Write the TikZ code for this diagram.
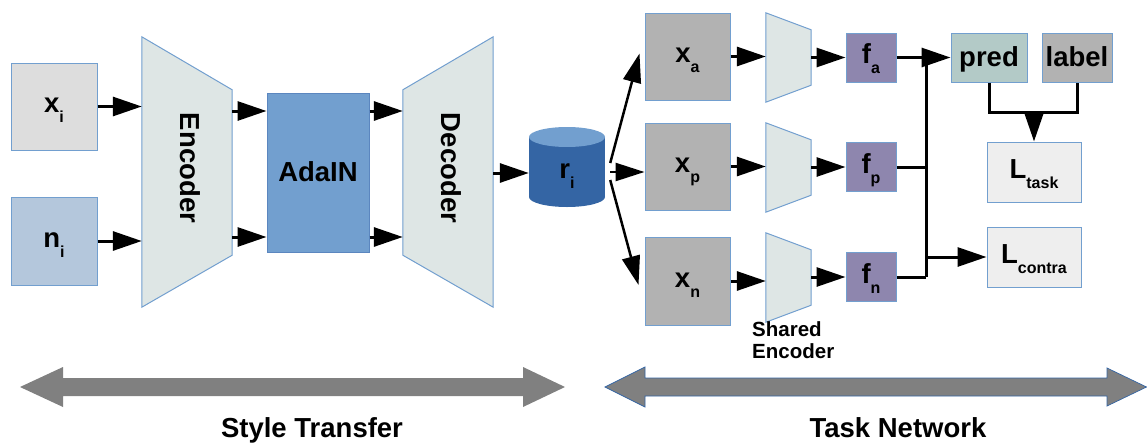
\documentclass[tikz,border=0pt]{standalone}
\usepackage{fontspec}
\setmainfont{Liberation Sans}
\usetikzlibrary{arrows.meta}
\definecolor{bordc}{HTML}{729FCF}
\definecolor{xicol}{HTML}{DDDDDD}
\definecolor{nicol}{HTML}{B4C7DC}
\definecolor{trapcol}{HTML}{DEE6E5}
\definecolor{adacol}{HTML}{729FCF}
\definecolor{adabord}{HTML}{5B86BF}
\definecolor{graycol}{HTML}{B2B2B2}
\definecolor{fcol}{HTML}{8E86AE}
\definecolor{predcol}{HTML}{B3CAC7}
\definecolor{lcol}{HTML}{EEEEEE}
\definecolor{cylbody}{HTML}{3465A4}
\definecolor{cyltop}{HTML}{729FCF}
\definecolor{bigcol}{HTML}{808080}
\definecolor{bigbord}{HTML}{3465A4}
\newcommand\subt[1]{\raisebox{-10pt}{\fontsize{16}{16}\selectfont #1}}
\begin{document}
\begin{tikzpicture}[x=1pt,y=-1pt,
  txt/.style={font=\fontsize{27.5}{32}\selectfont\bfseries},
  box/.style={draw=bordc, line width=1pt, inner sep=0pt, txt},
  sb/.style={text height=14pt, text depth=2pt},
  wd/.style={text height=20pt, text depth=2pt},
  trap/.style={fill=trapcol, draw=bordc, line width=1pt},
  ln/.style={line width=3pt},
  arr/.style={line width=3pt, -{Triangle[length=29pt,width=19pt]}},
  fan/.style={line width=2.5pt, -{Triangle[length=29pt,width=18pt]}},
  bigarr/.style={fill=bigcol}
]
\useasboundingbox (0,0) rectangle (1147,447);

% ---- style transfer part
\node (xi) [box, sb, fill=xicol, minimum width=86pt, minimum height=87pt] at (54,106.5) {x\subt{i}};
\node (ni) [box, sb, fill=nicol, minimum width=86pt, minimum height=88pt] at (54,241) {n\subt{i}};

\node (enc) [minimum width=90pt, minimum height=270pt, inner sep=0pt] at (187,172) {};
\draw[trap] (enc.north west) -- ([yshift=-53pt]enc.north east) -- ([yshift=52pt]enc.south east) -- (enc.south west) -- cycle;
\node (enctxt) [txt, rotate=-90] at (190,168) {Encoder};

\node (ada) [box, wd, fill=adacol, draw=adabord, minimum width=102pt, minimum height=159pt] at (318,172.5) {AdaIN};

\node (dec) [minimum width=90pt, minimum height=270pt, inner sep=0pt] at (448,172) {};
\draw[trap] (dec.north east) -- (dec.south east) -- ([yshift=52pt]dec.south west) -- ([yshift=-53pt]dec.north west) -- cycle;
\node (dectxt) [txt, rotate=-90] at (451,168) {Decoder};

\fill[cylbody] (529,137) rectangle (605,197);
\fill[cylbody] (567,197) ellipse [x radius=38, y radius=10];
\fill[cyltop] (567,137) ellipse [x radius=38, y radius=10];
\node (ri) [txt, inner sep=0pt, minimum width=76pt, minimum height=80pt, text height=22pt, text depth=0pt] at (567,167) {r\subt{i}};

\draw[arr] (xi.east) -- (enc.west |- xi.east);
\draw[arr] (ni.east) -- (enc.west |- ni.east);
\draw[arr] (enc.east |- 0,111) -- (ada.west |- 0,111);
\draw[arr] (enc.east |- 0,237) -- (ada.west |- 0,237);
\draw[arr] (ada.east |- 0,111) -- (dec.west |- 0,111);
\draw[arr] (ada.east |- 0,237) -- (dec.west |- 0,237);
\draw[arr] (dec.east |- 0,173) -- (ri.west |- 0,173);

% ---- task network part
\node (xa) [box, sb, fill=graycol, minimum width=85pt, minimum height=87pt] at (687.5,56.5) {x\subt{a}};
\node (xp) [box, sb, fill=graycol, minimum width=85pt, minimum height=87pt] at (687.5,166.5) {x\subt{p}};
\node (xn) [box, sb, fill=graycol, minimum width=85pt, minimum height=88pt] at (687.5,281) {x\subt{n}};

\node (t1) [minimum width=45pt, minimum height=89pt, inner sep=0pt] at (788.5,57.5) {};
\node (t2) [minimum width=45pt, minimum height=89pt, inner sep=0pt] at (788.5,167.5) {};
\node (t3) [minimum width=45pt, minimum height=89pt, inner sep=0pt] at (788.5,277.5) {};
\foreach \t in {t1,t2,t3}{
  \draw[trap] (\t.north west) -- ([yshift=-17pt]\t.north east) -- ([yshift=17pt]\t.south east) -- (\t.south west) -- cycle;
}

\node (fa) [box, sb, fill=fcol, minimum width=50pt, minimum height=49pt] at (871,57.5) {f\subt{a}};
\node (fp) [box, sb, fill=fcol, minimum width=50pt, minimum height=49pt] at (871,167) {f\subt{p}};
\node (fn) [box, sb, fill=fcol, minimum width=50pt, minimum height=49pt] at (871,277) {f\subt{n}};

\node (pred) [box, wd, fill=predcol, minimum width=76pt, minimum height=49pt] at (989,57.5) {pred};
\node (label) [box, wd, fill=graycol, minimum width=70pt, minimum height=49pt] at (1077,57.5) {label};
\node (ltask) [box, sb, fill=lcol, minimum width=94pt, minimum height=60pt] at (1034,172) {L\subt{task}};
\node (lcontra) [box, sb, fill=lcol, minimum width=94pt, minimum height=60pt] at (1034,257) {L\subt{contra}};

\node (shared) [anchor=north west, align=left, inner sep=0pt, font=\fontsize{20.5}{22.5}\selectfont\bfseries] at (752,321) {Shared\\Encoder};

% fan from r_i
\draw[fan] ([xshift=5pt,yshift=4pt]ri.east) -- ([xshift=-5pt,yshift=3pt]xa.west);
\draw[fan] ([xshift=5pt,yshift=-5pt]ri.east) coordinate (fm) -- (fm -| xp.west);
\draw[fan] ([xshift=5pt,yshift=-13pt]ri.east) -- ([xshift=-6pt,yshift=-4pt]xn.west);

\draw[arr] (xa.east) -- (xa.east -| t1.west);
\draw[arr] (xp.east) -- (xp.east -| t2.west);
\draw[arr] (xn.east) -- (xn.east -| t3.west);
\draw[arr] (t1.east |- fa.west) -- (fa.west);
\draw[arr] (t2.east |- fp.west) -- (fp.west);
\draw[arr] (t3.east |- fn.west) -- (fn.west);

\coordinate (jt) at (926,57.5);
\coordinate (jb) at (926,277);
\draw[arr] (fa.east) -- (pred.west);
\draw[ln] (jt) -- (jb);
\draw[ln] (fp.east) -- (fp.east -| jt);
\draw[ln] (fn.east) -- (fn.east -| jt);
\draw[arr] (lcontra.west -| jt) -- (lcontra.west);

\coordinate (mj) at (1034,112);
\draw[ln] (pred.south) |- (mj) -| (label.south);
\draw[arr] (mj) -- (ltask.north);

% ---- bottom double arrows
\fill[bigarr] (20,387) -- (63,367) -- (63,378) -- (523,378) -- (523,367) -- (565,387) -- (523,407) -- (523,396) -- (63,396) -- (63,407) -- cycle;
\filldraw[bigarr, draw=bigbord, line width=0.7pt] (605,387) -- (645,367) -- (645,378) -- (1107,378) -- (1107,368) -- (1146.5,387) -- (1107,406) -- (1107,396) -- (645,396) -- (645,407) -- cycle;

\node (st) [txt, anchor=base, inner sep=0pt] at (312,437) {Style Transfer};
\node (tn) [txt, anchor=base, inner sep=0pt] at (898,437) {Task Network};
\end{tikzpicture}
\end{document}
